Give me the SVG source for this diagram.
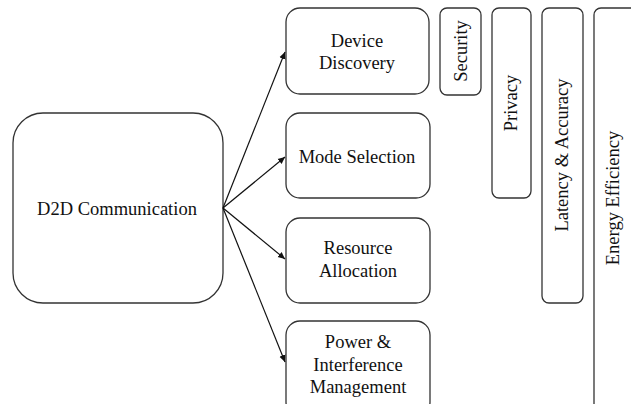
<svg xmlns="http://www.w3.org/2000/svg" width="631" height="404" viewBox="0 0 631 404">
<defs>
<style>
.box{fill:#fff;stroke:#333;stroke-width:1.3}
.t{font-family:'Liberation Serif','DejaVu Serif',serif;font-size:18.5px;fill:#111;text-anchor:middle}
.c{stroke:#111;stroke-width:1.2;fill:none}
</style>
<marker id="ah" markerWidth="8" markerHeight="8" refX="7" refY="4" orient="auto" markerUnits="userSpaceOnUse">
<path d="M0,0.8 L7,4 L0,7.2 z" fill="#111"/>
</marker>
</defs>
<rect width="631" height="404" fill="#fff"/>
<g id="d2d">
<rect class="box" x="13" y="113" width="210" height="190" rx="30"/>
<text class="t" x="117" y="215">D2D Communication</text>
</g>
<g id="discovery">
<rect class="box" x="286" y="8" width="143" height="86" rx="14"/>
<text class="t" x="357" y="47">Device</text>
<text class="t" x="357" y="69">Discovery</text>
</g>
<g id="mode">
<rect class="box" x="286" y="113" width="144" height="85" rx="14"/>
<text class="t" x="357" y="163">Mode Selection</text>
</g>
<g id="resource">
<rect class="box" x="286" y="218" width="144" height="85" rx="14"/>
<text class="t" x="358" y="254">Resource</text>
<text class="t" x="358" y="277">Allocation</text>
</g>
<g id="power">
<rect class="box" x="286" y="321" width="144" height="95" rx="14"/>
<text class="t" x="358" y="348">Power &amp;</text>
<text class="t" x="358" y="371">Interference</text>
<text class="t" x="358" y="393">Management</text>
</g>
<g id="security">
<rect class="box" x="440" y="8" width="41" height="87" rx="7"/>
<text class="t" transform="translate(467,51) rotate(-90)">Security</text>
</g>
<g id="privacy">
<rect class="box" x="492" y="8" width="39" height="190" rx="7"/>
<text class="t" transform="translate(517,103) rotate(-90)">Privacy</text>
</g>
<g id="latency">
<rect class="box" x="542" y="8" width="41" height="295" rx="7"/>
<text class="t" transform="translate(568,155) rotate(-90)">Latency &amp; Accuracy</text>
</g>
<g id="energy">
<rect class="box" x="594" y="8" width="60" height="420" rx="7"/>
<text class="t" transform="translate(619,198) rotate(-90)">Energy Efficiency</text>
</g>
<g id="connectors">
<line class="c" x1="223" y1="208" x2="285" y2="52" marker-end="url(#ah)"/>
<line class="c" x1="223" y1="208" x2="285" y2="157" marker-end="url(#ah)"/>
<line class="c" x1="223" y1="208" x2="285" y2="259" marker-end="url(#ah)"/>
<line class="c" x1="223" y1="208" x2="285" y2="362" marker-end="url(#ah)"/>
</g>
</svg>
